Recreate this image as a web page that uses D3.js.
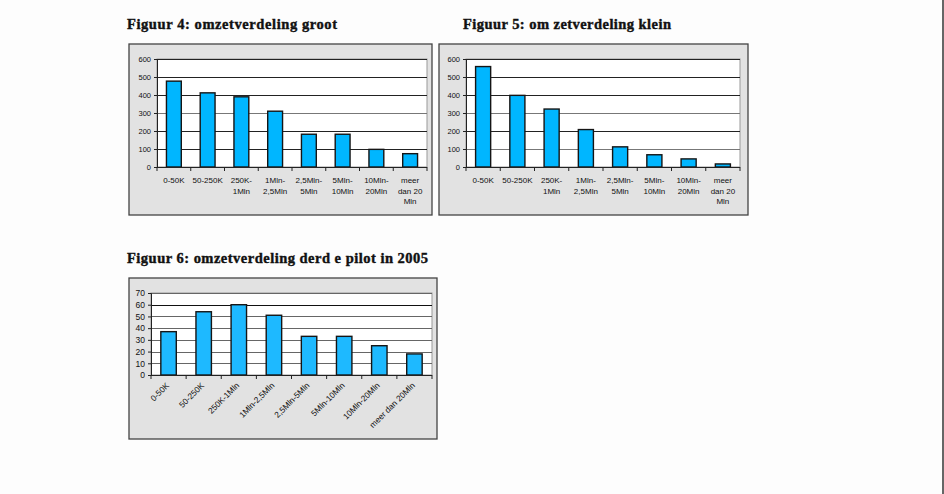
<!DOCTYPE html>
<html><head><meta charset="utf-8">
<script src="https://cdn.jsdelivr.net/npm/d3@7"></script>
<style>body{margin:0;background:#fdfdfd}svg{display:block}</style>
</head><body><svg id="c" width="944" height="494"></svg>
<script>
const categoriesWrapped = [["0-50K"],["50-250K"],["250K-","1Mln"],["1Mln-","2,5Mln"],["2,5Mln-","5Mln"],["5Mln-","10Mln"],["10Mln-","20Mln"],["meer","dan 20","Mln"]];
const categoriesFlat = ["0-50K","50-250K","250K-1Mln","1Mln-2,5Mln","2,5Mln-5Mln","5Mln-10Mln","10Mln-20Mln","meer dan 20Mln"];
const valuesGroot = [477, 412, 390, 310, 182, 182, 98, 74];
const valuesKlein = [558, 398, 322, 208, 112, 68, 45, 17];
const valuesPilot = [37, 54, 60, 51, 33, 33, 25, 18];
const ticksBig = [0,100,200,300,400,500,600];
const ticksPilot = [0,10,20,30,40,50,60,70];
const titles = ["Figuur 4: omzetverdeling groot","Figuur 5: om zetverdeling klein","Figuur 6: omzetverdeling derd e pilot in 2005"];

const svg = d3.select("#c");
svg.append("rect").attr("x",0).attr("y",0).attr("width",944).attr("height",494).attr("fill","#fdfdfd");
svg.append("line").attr("x1",943).attr("x2",943).attr("y1",0).attr("y2",494).attr("stroke","#333").attr("stroke-width",1.5);

function chart(o){
  const g = svg.append("g");
  g.append("text").attr("x",o.tx).attr("y",o.ty).text(o.title)
    .attr("font-family","Liberation Serif").attr("font-weight","bold").attr("font-size",14.5)
    .attr("textLength",o.tw).attr("lengthAdjust","spacing").attr("fill","#111")
    .attr("stroke","#111").attr("stroke-width",0.4);
  g.append("rect").attr("x",o.bx).attr("y",o.by).attr("width",o.bw).attr("height",o.bh)
    .attr("fill","#e2e2e2").attr("stroke","#444").attr("stroke-width",1.3);
  const x = d3.scaleBand().domain(d3.range(o.values.length)).range([o.px0,o.px1]).paddingInner(0.56).paddingOuter(0.28);
  const xs = d3.scaleBand().domain(d3.range(o.values.length)).range([o.px0,o.px1]);
  const y = d3.scaleLinear().domain([0,o.max]).range([o.py1,o.py0]);
  g.append("rect").attr("x",o.px0).attr("y",o.py0).attr("width",o.px1-o.px0).attr("height",o.py1-o.py0)
    .attr("fill","#fff").attr("stroke","#999").attr("stroke-width",1);
  g.selectAll(".grid").data(o.ticks.filter(t=>t>0)).join("line")
    .attr("x1",o.px0).attr("x2",o.px1).attr("y1",d=>Math.round(y(d))+0.5).attr("y2",d=>Math.round(y(d))+0.5)
    .attr("stroke",d=>o.gridColor(d)).attr("stroke-width",1);
  g.selectAll(".bar").data(o.values).join("rect")
    .attr("x",(d,i)=>x(i)).attr("width",x.bandwidth())
    .attr("y",d=>y(d)).attr("height",d=>y(0)-y(d))
    .attr("fill",o.color).attr("stroke","#151515").attr("stroke-width",1.4);
  const ya = g.append("g").attr("transform",`translate(${o.px0},0)`)
    .call(d3.axisLeft(y).tickValues(o.ticks).tickSize(3).tickPadding(3).tickFormat(d3.format("d")));
  ya.select(".domain").attr("stroke","#222");
  ya.selectAll("line").attr("stroke","#222");
  ya.selectAll("text").attr("font-family","Liberation Sans").attr("font-size",o.yfs).attr("fill","#111");
  const xa = g.append("g").attr("transform",`translate(0,${o.py1})`);
  xa.append("line").attr("x1",o.px0).attr("x2",o.px1).attr("y1",0.5).attr("y2",0.5).attr("stroke","#222");
  xa.selectAll(".tk").data(d3.range(o.values.length+1)).join("line")
    .attr("x1",i=>i<o.values.length?xs(i):o.px1).attr("x2",i=>i<o.values.length?xs(i):o.px1)
    .attr("y1",0).attr("y2",4).attr("stroke","#222");
  if(o.rotate){
    xa.selectAll(".lb").data(o.labels).join("text")
      .attr("transform",(d,i)=>`translate(${xs(i)+xs.bandwidth()/2+1},${11}) rotate(-45)`)
      .attr("text-anchor","end").attr("font-family","Liberation Sans").attr("font-size",8.3).attr("fill","#111")
      .text(d=>d);
  } else {
    const t = xa.selectAll(".lb").data(o.labels).join("text")
      .attr("x",(d,i)=>xs(i)+xs.bandwidth()/2).attr("y",16)
      .attr("text-anchor","middle").attr("font-family","Liberation Sans").attr("font-size",8).attr("fill","#111");
    t.selectAll("tspan").data(d=>d).join("tspan")
      .attr("x",function(){return this.parentNode.getAttribute("x");})
      .attr("dy",(d,j)=>j===0?0:10.5).text(d=>d);
  }
}

chart({title:titles[0],tx:127,ty:29,tw:210,bx:129,by:44,bw:303,bh:171,px0:157,px1:427,py0:59,py1:167,
  values:valuesGroot,max:600,ticks:ticksBig,labels:categoriesWrapped,color:"#00b6ff",yfs:7.5,
  gridColor:d=>d===300?"#777":"#222",rotate:false});
chart({title:titles[1],tx:463,ty:29,tw:208,bx:439,by:44,bw:309,bh:171,px0:466,px1:740,py0:59,py1:167,
  values:valuesKlein,max:600,ticks:ticksBig,labels:categoriesWrapped,color:"#00b6ff",yfs:7.5,
  gridColor:d=>d===300||d===100?"#777":"#222",rotate:false});
chart({title:titles[2],tx:127,ty:263,tw:301,bx:129,by:278,bw:308,bh:161,px0:151,px1:432,py0:293,py1:375,
  values:valuesPilot,max:70,ticks:ticksPilot,labels:categoriesFlat,color:"#1eb9ff",yfs:8.5,
  gridColor:d=>d===60?"#111":"#666",rotate:true});
</script></body></html>
